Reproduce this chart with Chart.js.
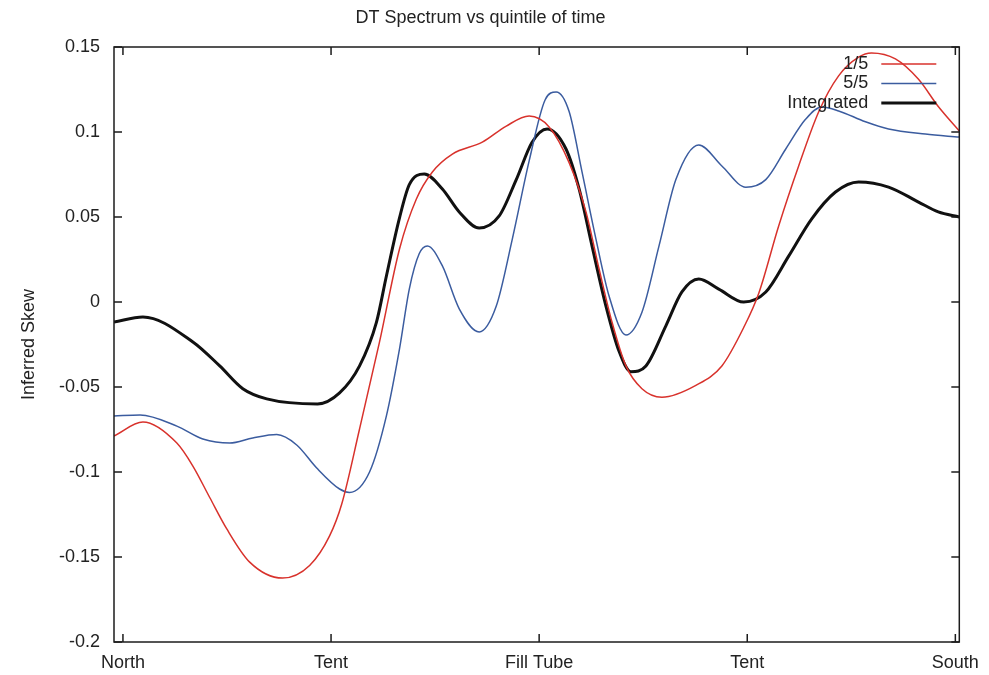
<!DOCTYPE html>
<html>
<head>
<meta charset="utf-8">
<title>DT Spectrum vs quintile of time</title>
<script src="https://cdn.jsdelivr.net/npm/chart.js@4.4.1/dist/chart.umd.min.js"></script>
<style>
  html, body { margin: 0; padding: 0; background: #ffffff; }
  #wrap { width: 989px; height: 675px; }
</style>
</head>
<body>
<div id="wrap"><canvas id="chart" width="989" height="675"></canvas></div>
<script>
// Position along the beamline: 0 = North, 1 = Tent, 2 = Fill Tube, 3 = Tent, 4 = South
const xTickValues = [0, 1, 2, 3, 4];
const xTickLabels = ['North', 'Tent', 'Fill Tube', 'Tent', 'South'];
const yTickValues = [-0.2, -0.15, -0.1, -0.05, 0, 0.05, 0.1, 0.15];

// First quintile of time (1/5)
const earlyX = [-0.043, 0.096, 0.259, 0.336, 0.417, 0.499, 0.609, 0.767, 0.897, 0.993, 1.051, 1.137, 1.233, 1.329, 1.410, 1.487, 1.583, 1.727, 1.842, 1.952, 2.048, 2.144, 2.225, 2.288, 2.350, 2.417, 2.494, 2.590, 2.753, 2.878, 2.983, 3.055, 3.151, 3.247, 3.343, 3.439, 3.535, 3.597, 3.712, 3.823, 3.918, 4.019];
const earlyY = [-0.0788, -0.0706, -0.083, -0.0965, -0.115, -0.1335, -0.153, -0.1624, -0.155, -0.1376, -0.119, -0.0747, -0.0235, 0.0312, 0.0606, 0.0765, 0.087, 0.094, 0.1035, 0.1094, 0.103, 0.082, 0.053, 0.0194, -0.0118, -0.0376, -0.051, -0.056, -0.049, -0.0376, -0.015, 0.005, 0.0447, 0.080, 0.1118, 0.133, 0.144, 0.1465, 0.143, 0.131, 0.115, 0.1006];

// Last quintile of time (5/5)
const lateX = [-0.043, 0.082, 0.259, 0.384, 0.513, 0.624, 0.739, 0.835, 0.930, 1.041, 1.089, 1.185, 1.266, 1.329, 1.376, 1.424, 1.463, 1.535, 1.616, 1.712, 1.794, 1.871, 1.952, 2.029, 2.082, 2.144, 2.206, 2.273, 2.336, 2.417, 2.494, 2.576, 2.657, 2.767, 2.878, 2.993, 3.089, 3.185, 3.281, 3.357, 3.439, 3.568, 3.679, 3.856, 4.019];
const lateY = [-0.067, -0.0665, -0.073, -0.0806, -0.083, -0.080, -0.078, -0.0841, -0.0975, -0.110, -0.112, -0.100, -0.067, -0.0276, 0.0076, 0.0285, 0.033, 0.0212, -0.004, -0.0176, -0.0024, 0.037, 0.083, 0.119, 0.1235, 0.112, 0.0765, 0.037, 0.0035, -0.0194, -0.006, 0.033, 0.072, 0.0924, 0.080, 0.0675, 0.072, 0.090, 0.1076, 0.1147, 0.1124, 0.106, 0.1018, 0.0988, 0.097];

// All time bins combined
const integratedX = [-0.043, 0.096, 0.336, 0.465, 0.576, 0.691, 0.935, 1.041, 1.137, 1.218, 1.266, 1.329, 1.376, 1.448, 1.535, 1.616, 1.712, 1.808, 1.890, 1.966, 2.038, 2.129, 2.192, 2.254, 2.321, 2.384, 2.441, 2.513, 2.609, 2.686, 2.767, 2.863, 2.983, 3.089, 3.199, 3.309, 3.424, 3.535, 3.679, 3.823, 3.918, 4.019];
const integratedY = [-0.0118, -0.0088, -0.0235, -0.0376, -0.051, -0.057, -0.060, -0.0535, -0.0376, -0.012, 0.0153, 0.0495, 0.069, 0.0753, 0.0665, 0.053, 0.0435, 0.0506, 0.072, 0.094, 0.1018, 0.090, 0.0665, 0.033, -0.0024, -0.029, -0.041, -0.0376, -0.014, 0.0059, 0.0135, 0.0076, 0.0, 0.0059, 0.027, 0.0488, 0.0647, 0.0706, 0.0676, 0.0588, 0.053, 0.050];

const toPoints = (xs, ys) => xs.map((x, i) => ({ x: x, y: ys[i] }));

const TEXT_COLOR = '#222222';
const FONT_FAMILY = '"Liberation Sans", Arial, Helvetica, sans-serif';
Chart.defaults.font.family = FONT_FAMILY;
Chart.defaults.color = TEXT_COLOR;

// Closed frame with inward tick marks on all four sides, plus a line-sample key
// in the upper right corner of the plotting area.
const frameAndKey = {
  id: 'frameAndKey',
  afterDatasetsDraw(chart) {
    const { ctx, chartArea: a, scales } = chart;
    const xs = scales.x, ys = scales.y;
    const tick = 8;
    ctx.save();
    ctx.strokeStyle = '#1c1c1c';
    ctx.lineWidth = 1.5;
    ctx.strokeRect(a.left, a.top, a.right - a.left, a.bottom - a.top);
    ctx.beginPath();
    yTickValues.forEach(v => {
      const py = ys.getPixelForValue(v);
      ctx.moveTo(a.left, py); ctx.lineTo(a.left + tick, py);
      ctx.moveTo(a.right, py); ctx.lineTo(a.right - tick, py);
    });
    xTickValues.forEach(v => {
      const px = xs.getPixelForValue(v);
      ctx.moveTo(px, a.bottom); ctx.lineTo(px, a.bottom - tick);
      ctx.moveTo(px, a.top); ctx.lineTo(px, a.top + tick);
    });
    ctx.stroke();

    // key entries
    ctx.font = '18px ' + FONT_FAMILY;
    ctx.textAlign = 'right';
    ctx.textBaseline = 'middle';
    chart.data.datasets.forEach((ds, i) => {
      const rowY = a.top + 17 + i * 19.5;
      ctx.fillStyle = TEXT_COLOR;
      ctx.fillText(ds.label, a.right - 91, rowY);
      ctx.beginPath();
      ctx.strokeStyle = ds.borderColor;
      ctx.lineWidth = ds.borderWidth;
      ctx.moveTo(a.right - 78, rowY);
      ctx.lineTo(a.right - 23, rowY);
      ctx.stroke();
    });
    ctx.restore();
  }
};

new Chart(document.getElementById('chart'), {
  type: 'line',
  data: {
    datasets: [
      {
        label: '1/5',
        data: toPoints(earlyX, earlyY),
        borderColor: '#d8322c',
        borderWidth: 1.5
      },
      {
        label: '5/5',
        data: toPoints(lateX, lateY),
        borderColor: '#3b5c9f',
        borderWidth: 1.5
      },
      {
        label: 'Integrated',
        data: toPoints(integratedX, integratedY),
        borderColor: '#111111',
        borderWidth: 3
      }
    ]
  },
  options: {
    responsive: false,
    animation: false,
    devicePixelRatio: 1,
    elements: {
      point: { radius: 0, hoverRadius: 0 },
      line: { cubicInterpolationMode: 'monotone', fill: false, borderJoinStyle: 'round' }
    },
    layout: { padding: { left: 0, right: 28, top: 0, bottom: 0 } },
    plugins: {
      legend: { display: false },
      tooltip: { enabled: false },
      title: {
        display: true,
        text: 'DT Spectrum vs quintile of time',
        color: TEXT_COLOR,
        font: { size: 18, weight: 'normal' },
        padding: { top: 7, bottom: 18.4 }
      }
    },
    scales: {
      x: {
        type: 'linear',
        min: -0.043,
        max: 4.019,
        grid: { display: false, drawTicks: false },
        border: { display: false },
        afterBuildTicks: scale => { scale.ticks = xTickValues.map(v => ({ value: v })); },
        afterFit: scale => { scale.height = 33; },
        ticks: {
          autoSkip: false,
          maxRotation: 0,
          padding: 10,
          color: TEXT_COLOR,
          font: { size: 18 },
          callback: v => xTickLabels[xTickValues.indexOf(v)]
        }
      },
      y: {
        type: 'linear',
        min: -0.2,
        max: 0.15,
        grid: { display: false, drawTicks: false },
        border: { display: false },
        afterBuildTicks: scale => { scale.ticks = yTickValues.map(v => ({ value: v })); },
        afterFit: scale => { scale.width = 114; },
        title: {
          display: true,
          text: 'Inferred Skew',
          color: TEXT_COLOR,
          font: { size: 18 },
          padding: { top: 18, bottom: 0 }
        },
        ticks: {
          padding: 14,
          color: TEXT_COLOR,
          font: { size: 18 },
          callback: v => String(v)
        }
      }
    }
  },
  plugins: [frameAndKey]
});
</script>
</body>
</html>
